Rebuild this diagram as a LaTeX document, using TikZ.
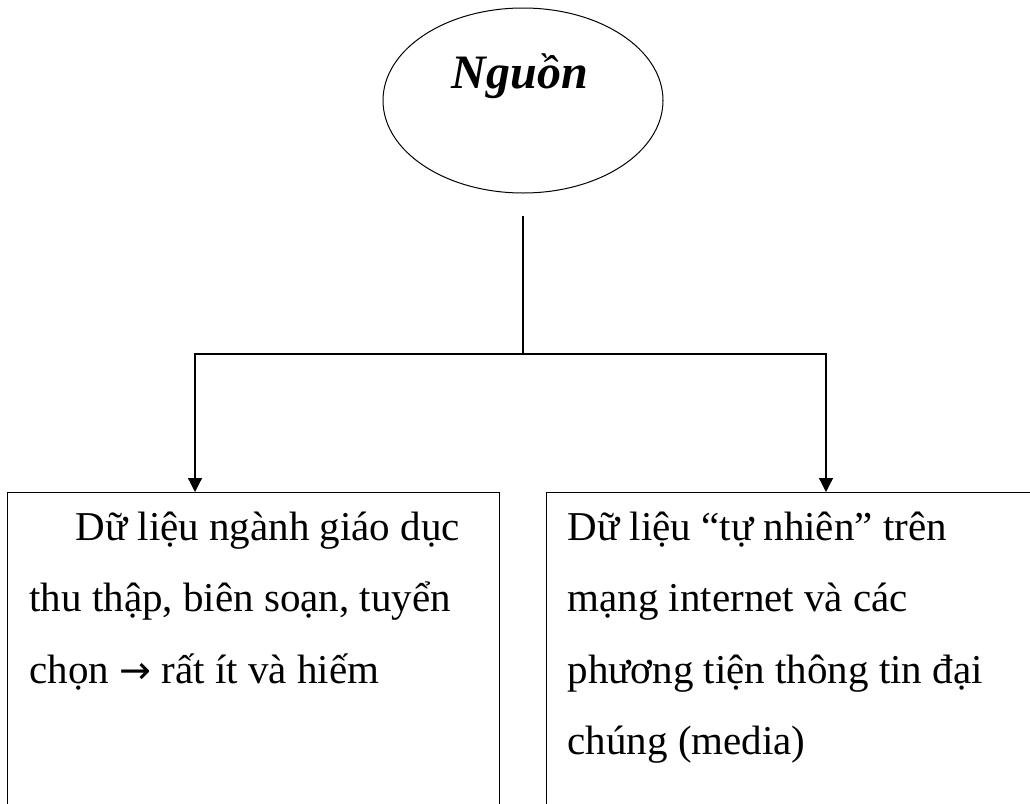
\documentclass[tikz,border=0pt]{standalone}
\usepackage{fontspec}
\setmainfont{Liberation Serif}
\newfontfamily\arrowfont{DejaVu Sans}
\usetikzlibrary{shapes.geometric,arrows.meta,calc}
\tikzset{>={Triangle[width=14pt,length=14pt]},
    srcbox/.style={draw, rectangle, minimum height=340pt, anchor=north west},
    srctext/.style={align=left, anchor=base west, inner sep=0pt, font=\fontsize{41}{71.5}\selectfont}}

\begin{document}
\begin{tikzpicture}[x=1pt, y=-1pt, line width=1.2pt]
    \useasboundingbox (0,0) rectangle (1030,803);
    \node[ellipse, draw, line width=1pt, minimum width=280pt, minimum height=185pt] (nguon) at (523,100.5) {};
    \node[anchor=base, font=\fontsize{48}{56}\selectfont\bfseries\itshape] (title) at ($(nguon.center)+(-3,-12.5)$) {Nguồn};
    \node[srcbox, minimum width=492pt] (dlgd) at (7,492) {};
    \node[srcbox, minimum width=500pt] (dltn) at (546,492) {};
    % base of a multi-line node is the baseline of its last line
    \node[srctext] (dlgdtext) at ($(dlgd.north west)+(22,191)$) {\hspace{46pt}Dữ liệu ngành giáo dục\\thu thập, biên soạn, tuyển\\chọn {\arrowfont\fontsize{38}{71.5}\selectfont →} rất ít và hiếm};
    \node[srctext] (dltntext) at ($(dltn.north west)+(21,262.5)$) {Dữ liệu “tự nhiên” trên\\mạng internet và các\\phương tiện thông tin đại\\chúng (media)};
    \coordinate (split) at (523,354);
    \coordinate (tipgd) at (195,492);
    \coordinate (tiptn) at (826,492);
    \draw[shorten <=22pt] (nguon.south) -- (split);
    \draw[->] (split) -| (tipgd);
    \draw[->] (split) -| (tiptn);
\end{tikzpicture}
\end{document}
